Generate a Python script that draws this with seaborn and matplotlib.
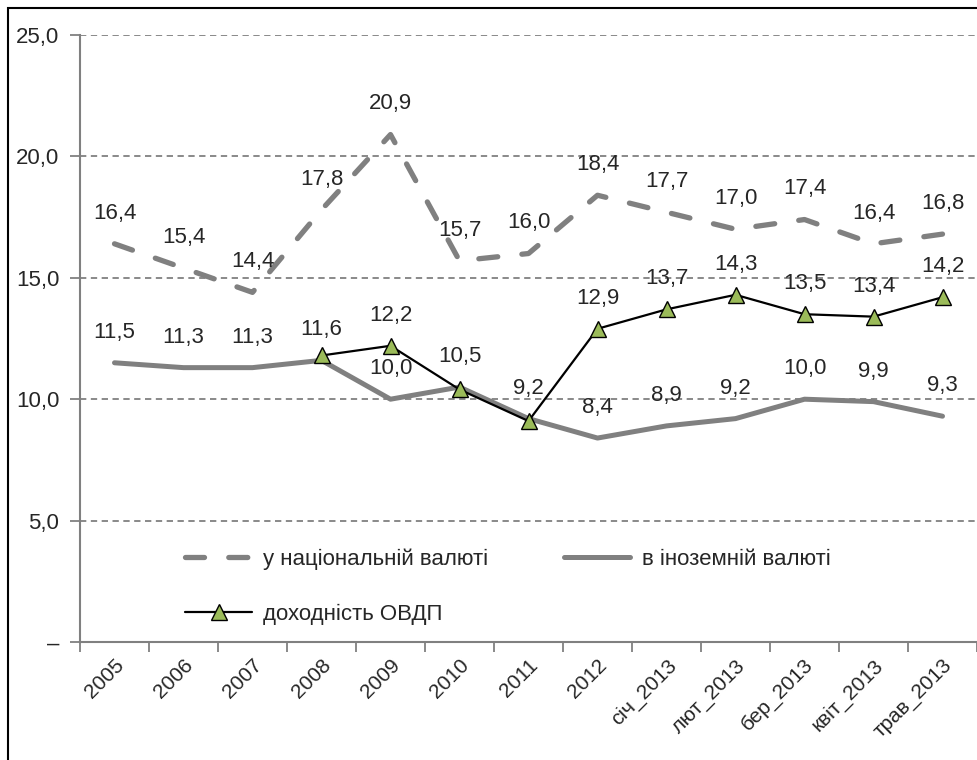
import numpy as np
import pandas as pd
import matplotlib
matplotlib.use("Agg")
import matplotlib.pyplot as plt
import matplotlib.transforms as mtransforms
from matplotlib.patches import Rectangle
from matplotlib.ticker import FixedLocator, FuncFormatter
import seaborn as sns

# Categories (years, then months of 2013)
categories = ["2005", "2006", "2007", "2008", "2009", "2010", "2011", "2012",
              "січ_2013", "лют_2013", "бер_2013", "квіт_2013", "трав_2013"]

# Rates in national currency, %
national = [16.4, 15.4, 14.4, 17.8, 20.9, 15.7, 16.0, 18.4, 17.7, 17.0, 17.4, 16.4, 16.8]
# Rates in foreign currency, %
foreign = [11.5, 11.3, 11.3, 11.6, 10.0, 10.5, 9.2, 8.4, 8.9, 9.2, 10.0, 9.9, 9.3]
# Government bond (ОВДП) yield, % (from 2008)
ovdp_cats = ["2008", "2009", "2010", "2011", "2012", "січ_2013", "лют_2013",
             "бер_2013", "квіт_2013", "трав_2013"]
ovdp = [11.8, 12.2, 10.4, 9.1, 12.9, 13.7, 14.3, 13.5, 13.4, 14.2]
# Which bond points carry a value label
ovdp_labelled = ["2009", "2012", "січ_2013", "лют_2013", "бер_2013", "квіт_2013", "трав_2013"]

y_ticks = [0, 5, 10, 15, 20, 25]

names = {"nat": "у національній валюті",
         "for": "в іноземній валюті",
         "ovdp": "доходність ОВДП"}

sns.set_theme(style="white")
FONT = ["Liberation Sans Narrow", "Liberation Sans", "DejaVu Sans"]
plt.rcParams["font.family"] = FONT

GRAY = "#808080"
GREEN = "#9BBB59"

pos = {c: i for i, c in enumerate(categories)}
df_main = pd.DataFrame({"x": [pos[c] for c in categories],
                        "nat": national, "for": foreign})
df_ovdp = pd.DataFrame({"x": [pos[c] for c in ovdp_cats], "y": ovdp})

fig = plt.figure(figsize=(9.78, 7.6), dpi=100)
ax = fig.add_axes([80 / 978, 1 - 642 / 760, 897 / 978, (642 - 35) / 760])

# horizontal dashed grid
for v in y_ticks[1:]:
    ax.axhline(v, color=GRAY, lw=1.3, ls=(0, (3.5, 2.5)), zorder=0)

sns.lineplot(data=df_main, x="x", y="nat", ax=ax, color=GRAY, lw=3.8,
             dashes=False, label=names["nat"], zorder=3)
ax.lines[-1].set_linestyle((0, (3.6, 4.6)))
ax.lines[-1].set_dash_capstyle("round")
sns.lineplot(data=df_main, x="x", y="for", ax=ax, color=GRAY, lw=3.6,
             label=names["for"], zorder=2)
ax.lines[-1].set_solid_capstyle("round")
sns.lineplot(data=df_ovdp, x="x", y="y", ax=ax, color="black", lw=1.6,
             marker="^", markersize=11, markerfacecolor=GREEN,
             markeredgecolor="black", markeredgewidth=1.0,
             label=names["ovdp"], zorder=4)

def fmt(v):
    return f"{v:.1f}".replace(".", ",")

LBL = 16
for i, v in enumerate(national):
    ax.annotate(fmt(v), (i, v), xytext=(0, 22), textcoords="offset points",
                ha="center", va="center", fontsize=LBL)
for i, v in enumerate(foreign):
    ax.annotate(fmt(v), (i, v), xytext=(0, 22), textcoords="offset points",
                ha="center", va="center", fontsize=LBL)
for c, v in zip(ovdp_cats, ovdp):
    if c in ovdp_labelled:
        ax.annotate(fmt(v), (pos[c], v), xytext=(0, 22), textcoords="offset points",
                    ha="center", va="center", fontsize=LBL)

n = len(categories)
ax.set_xlim(-0.5, n - 0.5)
ax.set_ylim(0, 25)
ax.set_xlabel("")
ax.set_ylabel("")

ax.yaxis.set_major_locator(FixedLocator(y_ticks))
ax.yaxis.set_major_formatter(FuncFormatter(lambda v, p: "–" if v == 0 else fmt(v)))
ax.tick_params(axis="y", length=7, width=1.3, color=GRAY, labelsize=LBL, pad=8,
               left=True)

ax.set_xticks(np.arange(n))
ax.set_xticklabels(categories, rotation=45, ha="right", rotation_mode="anchor",
                   fontsize=15)
# nudge the slanted category labels slightly left and down
shift = mtransforms.ScaledTranslation(-5 / 100, -3 / 100, fig.dpi_scale_trans)
for lab in ax.get_xticklabels():
    lab.set_transform(lab.get_transform() + shift)
ax.xaxis.set_minor_locator(FixedLocator(np.arange(-0.5, n, 1.0)))
ax.tick_params(axis="x", which="major", length=0, pad=10)
ax.tick_params(axis="x", which="minor", length=7, width=1.3, color=GRAY,
               bottom=True)

for s in ["top", "right"]:
    ax.spines[s].set_visible(False)
for s in ["left", "bottom"]:
    ax.spines[s].set_color(GRAY)
    ax.spines[s].set_linewidth(1.5)

# legend: two columns, bond yield on the second row
h, l = ax.get_legend_handles_labels()
order = [0, 2, 1]
leg = ax.legend([h[i] for i in order], [l[i] for i in order], ncol=2,
                loc="upper left", bbox_to_anchor=(0.105, 0.172), frameon=False,
                fontsize=LBL, handlelength=3.0, handletextpad=0.5,
                columnspacing=3.4, labelspacing=1.5, borderpad=0)

# outer frame of the chart
fig.patches.append(Rectangle((8 / 978, -0.1), 1.2, 1 - 8 / 760 + 0.1,
                             transform=fig.transFigure, fill=False,
                             edgecolor="black", lw=1.5))

fig.savefig("out.png", dpi=100)
